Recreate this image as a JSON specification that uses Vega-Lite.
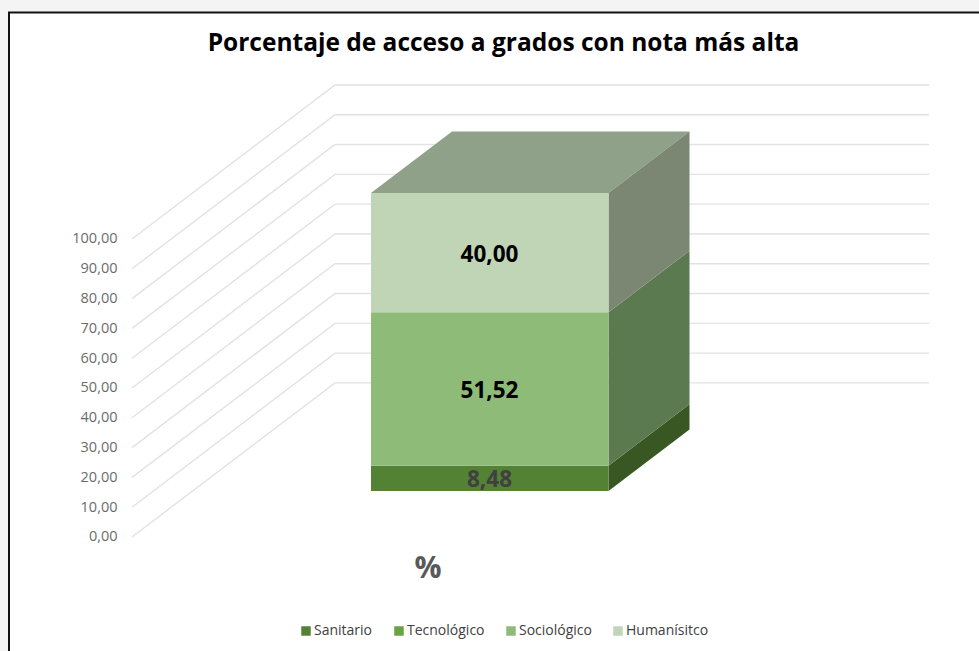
{
"$schema":"https://vega.github.io/schema/vega-lite/v6.json",
"width":979,"height":651,"padding":0,"autosize":{"type":"none"},
"background":"#f4f4f4",
"title":{"text":"Porcentaje de acceso a grados con nota más alta","font":"Open Sans","fontSize":24.5,"fontWeight":"bold","color":"#000000","anchor":"middle","frame":"group","offset":-56,"dx":14},
"datasets":{
"marco":[{"x":9,"x2":985,"y":176,"y2":-45}],
"reticula":[
{"nivel":0,"x":132,"y":0},{"nivel":0,"x":335,"y":51.7},{"nivel":0,"x":929,"y":51.7},
{"nivel":10,"x":132,"y":10},{"nivel":10,"x":335,"y":61.7},{"nivel":10,"x":929,"y":61.7},
{"nivel":20,"x":132,"y":20},{"nivel":20,"x":335,"y":71.7},{"nivel":20,"x":929,"y":71.7},
{"nivel":30,"x":132,"y":30},{"nivel":30,"x":335,"y":81.7},{"nivel":30,"x":929,"y":81.7},
{"nivel":40,"x":132,"y":40},{"nivel":40,"x":335,"y":91.7},{"nivel":40,"x":929,"y":91.7},
{"nivel":50,"x":132,"y":50},{"nivel":50,"x":335,"y":101.7},{"nivel":50,"x":929,"y":101.7},
{"nivel":60,"x":132,"y":60},{"nivel":60,"x":335,"y":111.7},{"nivel":60,"x":929,"y":111.7},
{"nivel":70,"x":132,"y":70},{"nivel":70,"x":335,"y":121.7},{"nivel":70,"x":929,"y":121.7},
{"nivel":80,"x":132,"y":80},{"nivel":80,"x":335,"y":131.7},{"nivel":80,"x":929,"y":131.7},
{"nivel":90,"x":132,"y":90},{"nivel":90,"x":335,"y":141.7},{"nivel":90,"x":929,"y":141.7},
{"nivel":100,"x":132,"y":100},{"nivel":100,"x":335,"y":151.7},{"nivel":100,"x":929,"y":151.7}
],
"series":[
{"serie":"Sanitario","valor":8.48,"inicio":0,"fin":8.48,"medio":4.24},
{"serie":"Tecnológico","valor":0,"inicio":8.48,"fin":8.48,"medio":8.48},
{"serie":"Sociológico","valor":51.52,"inicio":8.48,"fin":60,"medio":34.24},
{"serie":"Humanísitco","valor":40,"inicio":60,"fin":100,"medio":80}
],
"lados":[
{"serie":"Sanitario","x":608.5,"y":0,"y2":8.48},{"serie":"Sanitario","x":689.5,"y":20.6,"y2":29.08},
{"serie":"Sociológico","x":608.5,"y":8.48,"y2":60},{"serie":"Sociológico","x":689.5,"y":29.08,"y2":80.6},
{"serie":"Humanísitco","x":608.5,"y":60,"y2":100},{"serie":"Humanísitco","x":689.5,"y":80.6,"y2":120.6}
],
"tapa":[
{"x":371,"y":100,"y2":100},{"x":452,"y":100,"y2":120.6},{"x":608.5,"y":100,"y2":120.6},{"x":689.5,"y":120.6,"y2":120.6}
],
"categoria":[{"texto":"%","x":428,"y":-10.7}]
},
"layer":[
{"data":{"name":"marco"},"mark":{"type":"rect","fill":"#ffffff","stroke":"#111111","strokeWidth":2},
 "encoding":{"x":{"field":"x","type":"quantitative","scale":{"domain":[0,979],"nice":false,"zero":false},"axis":null},"x2":{"field":"x2"},
 "y":{"field":"y","type":"quantitative","scale":{"domain":[-38.26,180.2],"nice":false,"zero":false},
  "axis":{"values":[0,10,20,30,40,50,60,70,80,90,100],"offset":-118,"orient":"left","title":null,"domain":false,"ticks":false,"grid":false,"zindex":1,"labelPadding":1,"labelFont":"Open Sans","labelFontSize":14.5,"labelColor":"#6b6b6b","labelExpr":"replace(format(datum.value,'.2f'),'.',',')"}},
 "y2":{"field":"y2"}}},
{"data":{"name":"reticula"},"mark":{"type":"line","stroke":"#e2e2e2","strokeWidth":1.4,"interpolate":"linear"},
 "encoding":{"x":{"field":"x","type":"quantitative","axis":null},"y":{"field":"y","type":"quantitative","stack":null,"scale":{"domain":[-38.26,180.2],"nice":false,"zero":false},"axis":null},"detail":{"field":"nivel"},"order":{"field":"x"}}},
{"data":{"name":"tapa"},"mark":{"type":"area","fill":"#8fa188"},
 "encoding":{"x":{"field":"x","type":"quantitative","axis":null},"y":{"field":"y","type":"quantitative","stack":null,"scale":{"domain":[-53.7,164.76],"nice":false,"zero":false},"axis":null},"y2":{"field":"y2"}}},
{"data":{"name":"lados"},"mark":{"type":"area"},
 "encoding":{"x":{"field":"x","type":"quantitative","axis":null},"y":{"field":"y","type":"quantitative","stack":null,"scale":{"domain":[-53.7,164.76],"nice":false,"zero":false},"axis":null},"y2":{"field":"y2"},
 "color":{"field":"serie","type":"nominal","legend":null,"scale":{"domain":["Sanitario","Sociológico","Humanísitco"],"range":["#385723","#5c7a4f","#7b8773"]}}}},
{"data":{"name":"series"},"mark":{"type":"rect"},
 "encoding":{"x":{"datum":371,"type":"quantitative","axis":null},"x2":{"datum":608.5},"y":{"field":"inicio","type":"quantitative","scale":{"domain":[-53.7,164.76],"nice":false,"zero":false},"axis":null},"y2":{"field":"fin"},
 "color":{"field":"serie","type":"nominal","scale":{"domain":["Sanitario","Tecnológico","Sociológico","Humanísitco"],"range":["#548235","#6aa342","#8fbb79","#c0d5b5"]},
  "legend":{"title":null,"orient":"none","legendX":299,"legendY":624,"direction":"horizontal","columns":4,"symbolType":"square","symbolSize":90,"symbolStrokeWidth":0,"labelFont":"Open Sans","labelFontSize":14,"labelColor":"#404040","labelOffset":1,"columnPadding":19}}}},
{"data":{"name":"series"},"transform":[{"filter":"datum.valor>0"}],"mark":{"type":"text","font":"Open Sans","fontSize":22.5,"fontWeight":"bold","baseline":"middle","dy":2},
 "encoding":{"x":{"datum":489.5,"type":"quantitative","axis":null},"y":{"field":"medio","type":"quantitative","scale":{"domain":[-53.7,164.76],"nice":false,"zero":false},"axis":null},
 "text":{"field":"valor","type":"quantitative","format":".2f","formatType":"number"},
 "color":{"condition":{"test":"datum.valor<10","value":"#404040"},"value":"#000000"}}},
{"data":{"name":"categoria"},"mark":{"type":"text","font":"Open Sans","fontSize":30,"fontWeight":"bold","color":"#595959","baseline":"middle"},
 "encoding":{"x":{"field":"x","type":"quantitative","axis":null},"y":{"field":"y","type":"quantitative","scale":{"domain":[-38.26,180.2],"nice":false,"zero":false},"axis":null},"text":{"field":"texto"}}}
],
"resolve":{"scale":{"y":"independent","color":"independent"}},
"config":{"view":{"stroke":null},"locale":{"number":{"decimal":",","thousands":".","grouping":[3],"currency":["","€"]}}}
}
